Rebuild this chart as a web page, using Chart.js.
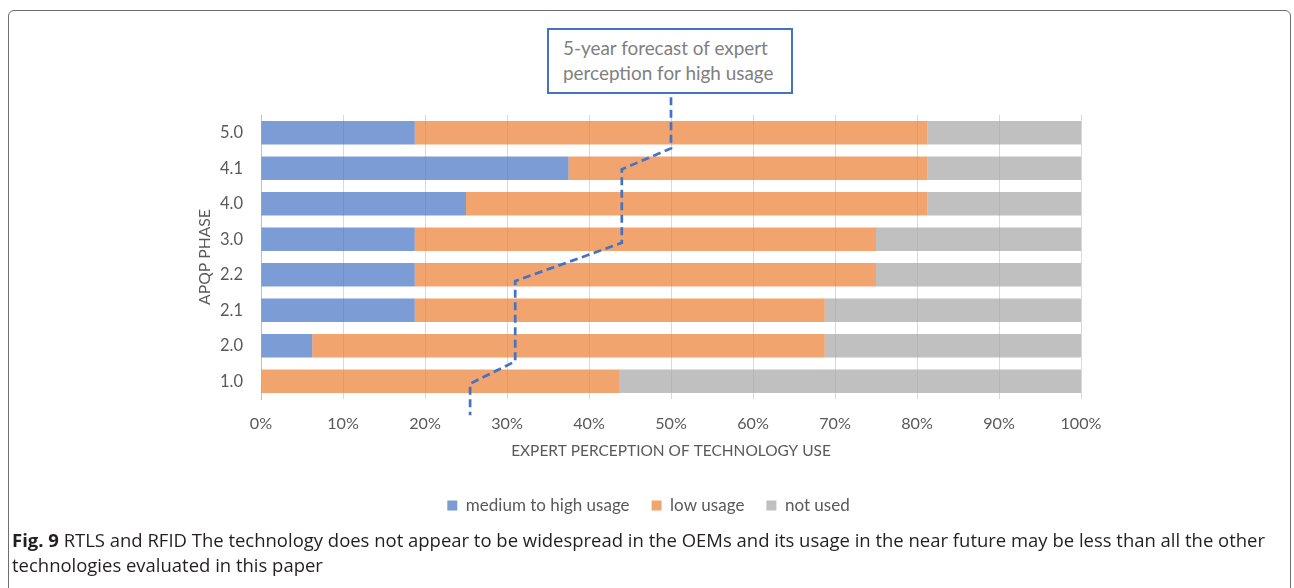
<!DOCTYPE html>
<html><head><meta charset="utf-8">
<script src="https://cdn.jsdelivr.net/npm/chart.js@4.4.1/dist/chart.umd.min.js"></script>
<style>
html,body{margin:0;padding:0;background:#fff;width:1294px;height:588px;overflow:hidden;position:relative}
#frame{position:absolute;left:8px;top:10px;width:1283px;height:640px;border:1.5px solid #6e6e6e;border-radius:6px;box-sizing:border-box}
#wrap{position:absolute;left:0;top:0;width:1294px;height:588px}
#note{position:absolute;left:547px;top:28px;width:246px;height:66px;border:2px solid #4472C4;box-sizing:border-box;background:#fff;color:#7f7f7f;font-family:Lato;padding-left:14px;padding-top:5px;line-height:25px;white-space:nowrap}
#caption{position:absolute;left:12px;top:527px;font-family:'Open Sans';color:#231f20;line-height:25px;white-space:nowrap}
</style></head><body>
<div id="frame"></div>
<div id="wrap"><canvas id="c" width="1294" height="588"></canvas></div>
<div id="note"><div id="n1">5-year forecast of expert</div><div id="n2">perception for high usage</div></div>
<div id="caption"><div id="cap1"><b>Fig. 9</b> RTLS and RFID The technology does not appear to be widespread in the OEMs and its usage in the near future may be less than all the other</div><div>technologies evaluated in this paper</div></div>
<script>
const categories = ['5.0', '4.1', '4.0', '3.0', '2.2', '2.1', '2.0', '1.0'];
const mediumHigh = [18.75, 37.5, 25, 18.75, 18.75, 18.75, 6.25, 0];
const lowUsage   = [62.5, 43.75, 56.25, 56.25, 56.25, 50, 62.5, 43.75];
const notUsed    = [18.75, 18.75, 18.75, 25, 25, 31.25, 31.25, 56.25];
const seriesNames = ['medium to high usage', 'low usage', 'not used'];
const xTickLabels = ['0%', '10%', '20%', '30%', '40%', '50%', '60%', '70%', '80%', '90%', '100%'];
// 5-year forecast line: x in percent, y in phase-row position (0 = top row "5.0")
const forecastX = [50, 50, 44, 44, 31, 31, 25.5, 25.5];
const forecastY = [-1.0, 0.44, 1.03, 3.10, 4.18, 6.44, 7.07, 7.96];

const fam = 'Lato';
const mctx = document.createElement('canvas').getContext('2d');
function fit(text, target, family, weight) {
  mctx.font = (weight || 'normal') + ' 100px ' + family;
  return 100 * target / mctx.measureText(text).width;
}
const tickSize = fit('100%', 41, fam);
const yTickSize = fit('5.0', 23, fam);
const xTitleSize = fit('EXPERT PERCEPTION OF TECHNOLOGY USE', 320, fam);
const yTitleSize = fit('APQP PHASE', 96, fam);
const legendSize = fit(seriesNames[0], 164, fam);

// annotation + caption sizing
const noteSize = fit('perception for high usage', 211, fam);
document.getElementById('note').style.fontSize = noteSize + 'px';
(function () {
  mctx.font = 'bold 100px "Open Sans"';
  let w = mctx.measureText('Fig. 9').width;
  mctx.font = 'normal 100px "Open Sans"';
  w += mctx.measureText(' RTLS and RFID The technology does not appear to be widespread in the OEMs and its usage in the near future may be less than all the other').width;
  document.getElementById('caption').style.fontSize = (100 * 1254 / w) + 'px';
})();

const legendPad = 22;
const xAxisH = 76;
const legendH = Math.max(legendSize, 10) + legendPad + 10;
const padBottom = 588 - 399 - xAxisH - legendH;

const forecast = forecastX.map((x, i) => ({x: x, y: forecastY[i]}));

const legendShift = {
  id: 'legendShift',
  afterLayout(chart) {
    const l = chart.legend;
    if (l) { l.left += 15; l.right += 15; }
  }
};

new Chart(document.getElementById('c'), {
  type: 'bar',
  data: {
    labels: categories,
    datasets: [
      {label: seriesNames[0], data: mediumHigh, backgroundColor: 'rgba(68,114,196,0.7)', stack: 's'},
      {label: seriesNames[1], data: lowUsage, backgroundColor: 'rgba(237,125,49,0.7)', stack: 's'},
      {label: seriesNames[2], data: notUsed, backgroundColor: 'rgba(165,165,165,0.7)', stack: 's'},
      {type: 'line', label: 'forecast', data: forecast, xAxisID: 'x', yAxisID: 'yf',
       borderColor: '#4472C4', borderWidth: 2.7, borderDash: [8, 4.5], pointRadius: 0,
       fill: false, tension: 0, clip: false, order: -1}
    ]
  },
  plugins: [legendShift],
  options: {
    indexAxis: 'y',
    responsive: false,
    animation: false,
    layout: {padding: {left: 186, right: 213, top: 115, bottom: padBottom}},
    datasets: {bar: {barPercentage: 0.66, categoryPercentage: 1, grouped: false}},
    scales: {
      x: {
        stacked: true, min: 0, max: 100,
        ticks: {stepSize: 10, callback: (v, i) => xTickLabels[i], color: '#595959',
                font: {family: fam, size: tickSize}, padding: 15, maxRotation: 0},
        grid: {color: '#d9d9d9', drawTicks: false},
        border: {display: false},
        title: {display: true, text: 'EXPERT PERCEPTION OF TECHNOLOGY USE', color: '#595959',
                font: {family: fam, size: xTitleSize}, padding: {top: 0, bottom: (xAxisH - 52) - 0.6 * xTitleSize}},
        afterFit(s) { s.height = xAxisH; }
      },
      y: {
        stacked: true,
        grid: {display: false, drawTicks: false},
        border: {display: true, color: '#bfbfbf', width: 1},
        ticks: {color: '#595959', font: {family: fam, size: yTickSize}, padding: 18},
        title: {display: true, text: 'APQP PHASE', color: '#595959',
                font: {family: fam, size: yTitleSize}, padding: {top: 19 - 0.6 * yTitleSize, bottom: 0}},
        afterFit(s) { s.width = 75; }
      },
      yf: {type: 'linear', display: false, reverse: true, offset: false, grid: {offset: false},
           min: -0.5, max: 7.5}
    },
    plugins: {
      legend: {
        position: 'bottom',
        labels: {filter: (it) => it.datasetIndex < 3, boxWidth: 10, boxHeight: 10, padding: legendPad,
                 color: '#595959', font: {family: fam, size: legendSize}}
      },
      tooltip: {enabled: false}
    }
  }
});
</script>
</body></html>
